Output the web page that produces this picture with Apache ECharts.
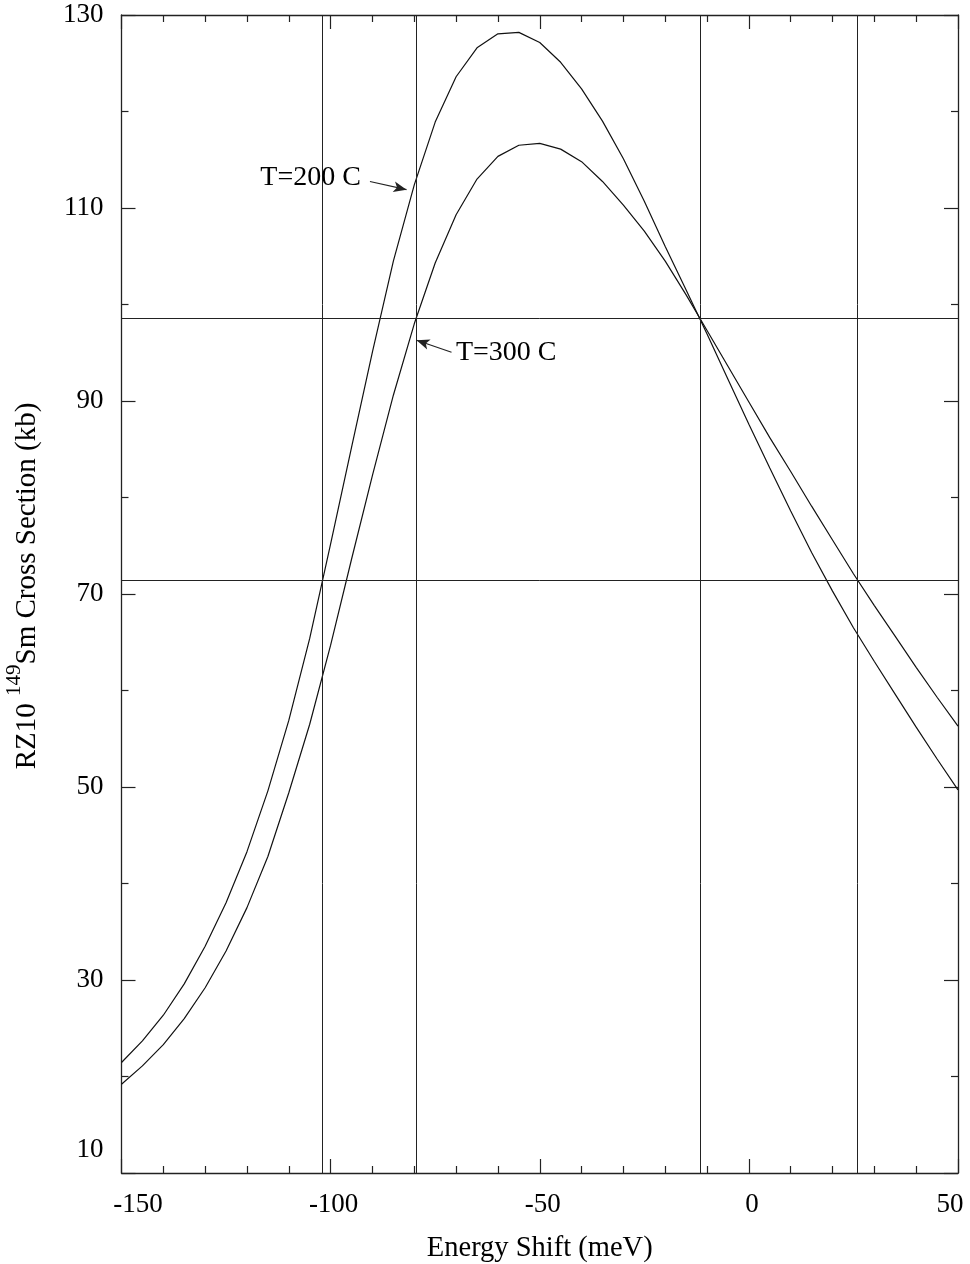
<!DOCTYPE html>
<html><head><meta charset="utf-8">
<script src="https://cdn.jsdelivr.net/npm/echarts@6/dist/echarts.min.js"></script>
<style>html,body{margin:0;padding:0;background:#fff}#c{width:970px;height:1264px}</style>
</head><body><div id="c"></div>
<script>
// ---- data ----
const energyShift = [-150,-145,-140,-135,-130,-125,-120,-115,-110,-105,-100,-95,-90,-85,-80,-75,-70,-65,-60,-55,-50,-45,-40,-35,-30,-25,-20,-15,-10,-5,0,5,10,15,20,25,30,35,40,45,50];
const sigmaT200 = [21.45,23.7,26.35,29.6,33.5,38.0,43.3,49.6,56.9,65.4,75.2,85.2,95.1,104.5,112.4,118.9,123.6,126.6,128.05,128.2,127.15,125.1,122.35,119.0,115.1,110.7,106.0,101.5,96.95,92.25,87.6,83.05,78.6,74.3,70.3,66.5,63.0,59.6,56.2,52.9,49.7];
const sigmaT300 = [19.2,21.1,23.3,26.0,29.2,33.0,37.5,42.8,49.4,56.5,64.7,73.6,82.3,90.6,98.0,104.3,109.3,113.0,115.35,116.5,116.7,116.1,114.8,112.75,110.3,107.6,104.5,101.0,97.3,93.6,89.9,86.2,82.7,79.1,75.6,72.1,68.8,65.6,62.4,59.3,56.3];
const xTickLabels = ['-150','-100','-50','0','50'];
const yTickLabels = ['10','30','50','70','90','110','130'];
const refLinesX = [-101.9,-79.6,-11.7,26.0];
const refLinesY = [98.55,71.4];
const noteText = ['T=200 C','T=300 C'];
const noteAt = [[-116.8,113.15],[-70.05,95.0]];
const arrowFrom = [[-90.6,112.75],[-71.1,95.05]];
const arrowTo = [[-81.85,111.9],[-79.45,96.3]];

const FONT = 'Liberation Serif';
const FS = 27;
const NAME_FS = 28.5;
const INK = '#111';

const chart = echarts.init(document.getElementById('c'));

function pairs(xs, ys){ return xs.map((x,i)=>[x, ys[i]]); }

const baseAxisLine = {show:true, onZero:false, lineStyle:{color:'#222', width:1.3}};
const baseTick = {show:true, inside:true, length:14, lineStyle:{color:'#222', width:1.2}};

const option = {
  backgroundColor:'#fff',
  animation:false,
  grid:{left:121.5, right:12, top:15, bottom:91, containLabel:false, outerBoundsMode:'none'},
  xAxis:[{
    type:'value', min:-150, max:50, interval:50, position:'bottom',
    axisLine:baseAxisLine, axisTick:baseTick,
    minorTick:{show:true, splitNumber:5, length:7, lineStyle:{color:'#222', width:1.2}},
    splitLine:{show:false}, minorSplitLine:{show:false},
    axisLabel:{
      show:true, margin:18, showMinLabel:true, showMaxLabel:true,
      fontFamily:FONT, fontSize:FS, color:'#000',
      formatter:function(v){
        const s = xTickLabels[xTickLabels.indexOf(String(v))] || String(v);
        if (v === -150) return '{l|'+s+'}';
        if (v === 50) return '{r|'+s+'}';
        return '{n|'+s+'}';
      },
      rich:{
        l:{fontFamily:FONT, fontSize:FS, color:'#000', padding:[0,0,0,33]},
        r:{fontFamily:FONT, fontSize:FS, color:'#000', padding:[0,16,0,0]},
        n:{fontFamily:FONT, fontSize:FS, color:'#000', padding:[0,0,0,6]}
      }
    },
    name:'Energy Shift (meV)', nameLocation:'middle', nameGap:61,
    nameTextStyle:{fontFamily:FONT, fontSize:NAME_FS, color:'#000'}
  },{
    type:'value', min:-150, max:50, interval:50, position:'top',
    axisLine:baseAxisLine, axisTick:baseTick,
    minorTick:{show:true, splitNumber:5, length:7, lineStyle:{color:'#222', width:1.2}},
    splitLine:{show:false}, axisLabel:{show:false}
  }],
  yAxis:[{
    type:'value', min:10, max:130, interval:20, position:'left',
    axisLine:baseAxisLine, axisTick:baseTick,
    minorTick:{show:true, splitNumber:2, length:7, lineStyle:{color:'#222', width:1.2}},
    splitLine:{show:false}, minorSplitLine:{show:false},
    axisLabel:{
      show:true, margin:18, showMinLabel:true, showMaxLabel:true,
      fontFamily:FONT, fontSize:FS, color:'#000', lineHeight:46,
      formatter:function(v){
        const s = yTickLabels[yTickLabels.indexOf(String(v))] || String(v);
        return v === 10 ? s + '\n ' : s;
      }
    },
    name:'{a|RZ10 }{s|149}{a|Sm Cross Section (kb)}',
    nameLocation:'middle', nameGap:80, nameRotate:90,
    nameTextStyle:{
      fontFamily:FONT, fontSize:29, color:'#000', padding:[0,0,0,16],
      rich:{
        a:{fontFamily:FONT, fontSize:29, color:'#000', lineHeight:38, verticalAlign:'bottom'},
        s:{fontFamily:FONT, fontSize:21, color:'#000', verticalAlign:'top'}
      }
    }
  },{
    type:'value', min:10, max:130, interval:20, position:'right',
    axisLine:baseAxisLine, axisTick:baseTick,
    minorTick:{show:true, splitNumber:2, length:7, lineStyle:{color:'#222', width:1.2}},
    splitLine:{show:false}, axisLabel:{show:false}
  }],
  series:[{
    name:'T=200 C', type:'line', xAxisIndex:0, yAxisIndex:0,
    data:pairs(energyShift, sigmaT200), symbol:'none', smooth:false,
    lineStyle:{color:INK, width:1.2}, z:3,
    markLine:{
      silent:true, symbol:['none','none'], label:{show:false},
      lineStyle:{color:'#222', width:1, type:'solid'},
      data: refLinesX.map(v=>({xAxis:v})).concat(refLinesY.map(v=>({yAxis:v})))
    }
  },{
    name:'T=300 C', type:'line', xAxisIndex:0, yAxisIndex:0,
    data:pairs(energyShift, sigmaT300), symbol:'none', smooth:false,
    lineStyle:{color:INK, width:1.2}, z:3,
    markLine:{
      silent:true, symbol:['none','arrow'], symbolSize:[8,13], label:{show:false},
      lineStyle:{color:'#222', width:1.2, type:'solid'},
      data: arrowFrom.map((p,i)=>[{coord:p},{coord:arrowTo[i]}])
    }
  }]
};
chart.setOption(option);

const g = noteText.map((t,i)=>{
  const p = chart.convertToPixel({xAxisIndex:0, yAxisIndex:0}, noteAt[i]);
  return {type:'text', x:p[0], y:p[1], style:{text:t, fontFamily:FONT, fontSize:28, fill:'#000', align:'left', verticalAlign:'middle'}, z:10};
});
chart.setOption({graphic:g});
</script></body></html>
